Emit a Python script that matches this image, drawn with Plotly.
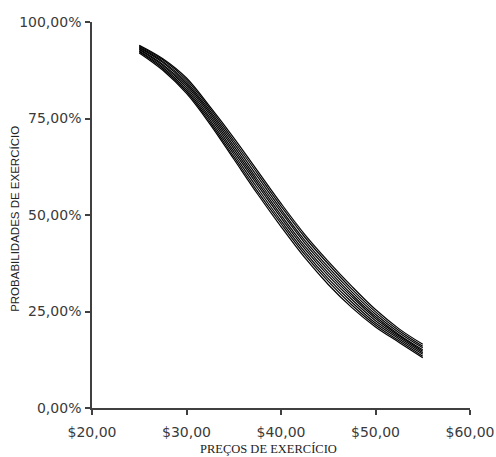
import plotly.graph_objects as go

strikes = [25.0, 27.5, 30.0, 32.5, 35.0, 37.5, 40.0, 42.5, 45.0, 47.5, 50.0, 52.5, 55.0]

curve_1 = [94.0, 90.5, 85.5, 78.0, 70.0, 61.5, 53.0, 45.0, 38.0, 31.5, 25.5, 20.5, 16.5]
curve_2 = [93.8, 90.2, 85.0, 77.5, 69.3, 60.8, 52.3, 44.3, 37.3, 30.8, 24.9, 20.0, 16.0]
curve_3 = [93.5, 89.8, 84.5, 76.9, 68.6, 60.0, 51.5, 43.5, 36.5, 30.1, 24.3, 19.5, 15.6]
curve_4 = [93.3, 89.5, 84.0, 76.4, 67.9, 59.2, 50.8, 42.8, 35.8, 29.4, 23.7, 19.0, 15.1]
curve_5 = [93.0, 89.0, 83.5, 75.8, 67.2, 58.5, 50.0, 42.0, 35.0, 28.8, 23.2, 18.7, 14.7]
curve_6 = [92.8, 88.7, 83.0, 75.2, 66.5, 57.8, 49.3, 41.3, 34.3, 28.1, 22.6, 18.3, 14.3]
curve_7 = [92.5, 88.3, 82.5, 74.6, 65.8, 57.0, 48.5, 40.5, 33.5, 27.4, 22.0, 17.9, 13.9]
curve_8 = [92.3, 87.9, 82.0, 74.0, 65.1, 56.2, 47.8, 39.8, 32.8, 26.7, 21.5, 17.4, 13.4]
curve_9 = [92.0, 87.5, 81.5, 73.5, 64.5, 55.5, 47.0, 39.0, 32.0, 26.0, 21.0, 17.0, 13.0]

curves = [curve_1, curve_2, curve_3, curve_4, curve_5, curve_6, curve_7, curve_8, curve_9]

x_title = "PREÇOS DE EXERCÍCIO"
y_title = "PROBABILIDADES DE EXERCÍCIO"

fig = go.Figure()
for c in curves:
    fig.add_trace(go.Scatter(x=strikes, y=c, mode="lines",
                             line=dict(color="black", width=1.2, shape="spline"),
                             showlegend=False, hoverinfo="skip"))

axis_common = dict(showline=True, linecolor="#404040", linewidth=1.5,
                   ticks="outside", ticklen=5, tickwidth=1.5, tickcolor="#404040",
                   showgrid=False, zeroline=False, automargin=False,
                   tickfont=dict(family="DejaVu Sans", size=14, color="#3a3a3a"))

fig.update_layout(
    width=496, height=457,
    margin=dict(l=92, r=26, t=22, b=49),
    paper_bgcolor="white", plot_bgcolor="white",
    separators=",.",
    xaxis=dict(range=[20, 60], dtick=10, tick0=20, tickprefix="$", tickformat=".2f",
               ticklabelstandoff=5, **axis_common),
    yaxis=dict(range=[0, 100], dtick=25, tick0=0, ticksuffix="%", tickformat=".2f",
               ticklabelstandoff=1, **axis_common),
    annotations=[
        dict(text=x_title, xref="paper", yref="paper", x=0.468, y=-0.106,
             xanchor="center", yanchor="middle", showarrow=False,
             font=dict(family="Liberation Serif", size=12.5, color="#222222")),
        dict(text=y_title, xref="paper", yref="paper", x=-0.2037, y=0.49,
             xanchor="center", yanchor="middle", showarrow=False, textangle=-90,
             font=dict(family="Liberation Sans", size=11.5, color="#222222")),
    ],
)

fig.write_html("out.html")
